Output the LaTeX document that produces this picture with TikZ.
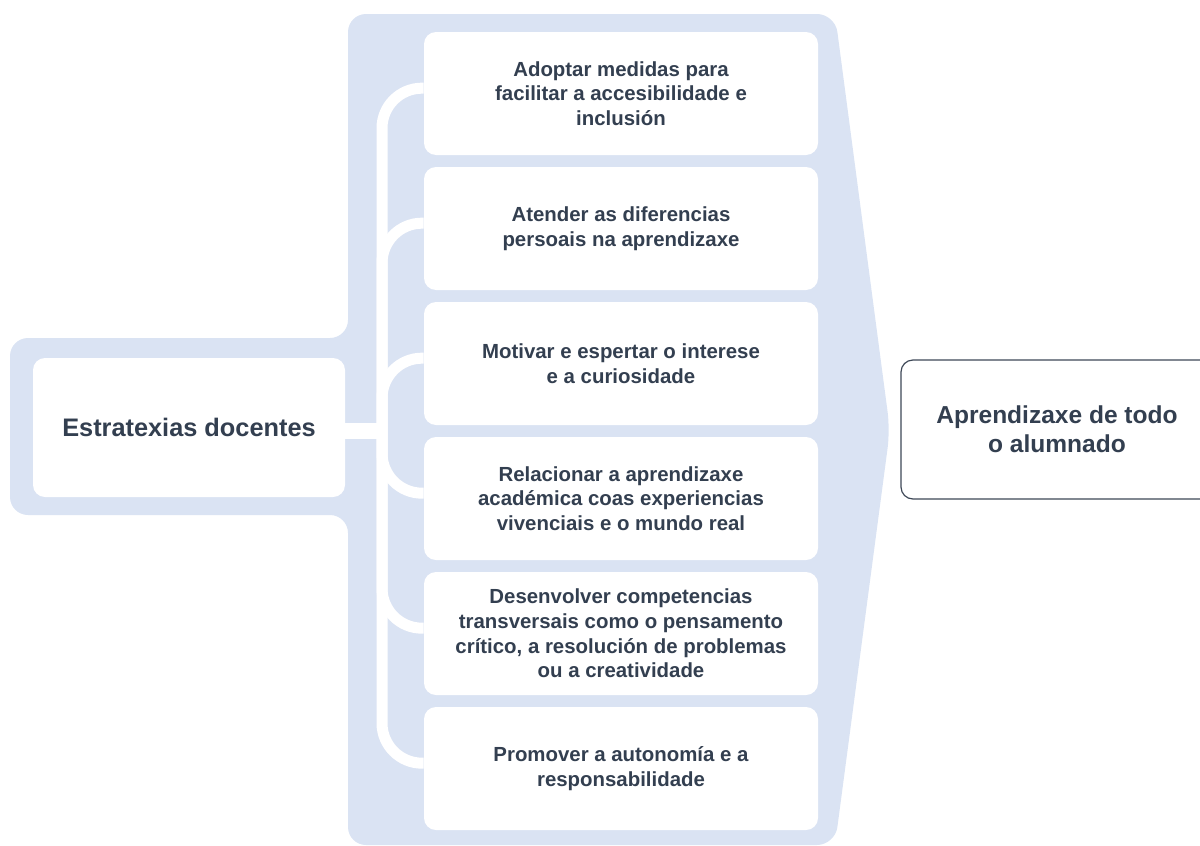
\documentclass[tikz,border=0pt]{standalone}
\usepackage{fontspec}
\setmainfont{Liberation Sans}
\definecolor{panelblue}{HTML}{DAE3F3}
\definecolor{txtc}{HTML}{333F50}
\definecolor{edgec}{HTML}{3E4857}
\tikzstyle{box}=[rectangle,rounded corners=9pt,fill=white,text=txtc,font=\bfseries\fontsize{15.3}{18.5}\selectfont,align=center,minimum width=295.5pt,minimum height=92.25pt,inner sep=0pt,execute at begin node={\rule{0pt}{20pt}}]
\tikzstyle{boxm}=[rectangle,rounded corners=9pt,fill=white,text=txtc,font=\bfseries\fontsize{18.4}{21.8}\selectfont,align=center,minimum width=234pt,minimum height=104.25pt,inner sep=0pt]
\tikzstyle{conn}=[white,line width=8.25pt,rounded corners=30pt]

\begin{document}
\begin{tikzpicture}[x=0.75pt,y=-0.75pt]
    \useasboundingbox (0,0) rectangle (1200,846);
    \fill[panelblue,rounded corners=13.5pt] (348,14) -- (835,14) -- (890,430) -- (835,845) -- (348,845) -- (348,515) -- (10,515) -- (10,338) -- (348,338) -- cycle;

    \node[boxm,font=\bfseries\fontsize{19}{21.8}\selectfont] (est) at (189,427.5) {Estratexias docentes};
    \node[boxm,draw=edgec,line width=0.9pt] (apr) at (1057,429.5) {Aprendizaxe de todo\\o alumnado};

    \node[box] (s1) at (621,93.5) {Adoptar medidas para\\facilitar a accesibilidade e\\inclusión};
    \node[box] (s2) at (621,228.5) {Atender as diferencias\\persoais na aprendizaxe};
    \node[box] (s3) at (621,363.5) {Motivar e espertar o interese\\e a curiosidade};
    \node[box] (s4) at (621,498.5) {Relacionar a aprendizaxe\\académica coas experiencias\\vivenciais e o mundo real};
    \node[box] (s5) at (621,633.5) {Desenvolver competencias\\transversais como o pensamento\\crítico, a resolución de problemas\\ou a creatividade};
    \node[box] (s6) at (621,768.5) {Promover a autonomía e a\\responsabilidade};

    \coordinate (t) at (382,431);
    \draw[white,line width=12pt] (est.east |- t) -- (t);
    \foreach \s in {s1,s2,s3,s4,s5,s6}
    \draw[conn] (t) |- ([yshift=4pt]\s.west);
\end{tikzpicture}
\end{document}
